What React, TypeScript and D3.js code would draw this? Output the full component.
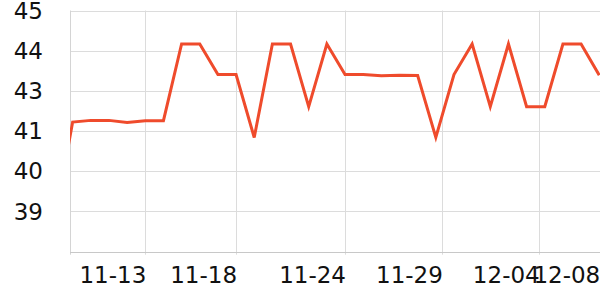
import React from "react";
import * as d3 from "d3";

const dates: string[] = [
  "2023-11-08", "2023-11-09", "2023-11-10", "2023-11-11", "2023-11-12", "2023-11-13",
  "2023-11-14", "2023-11-15", "2023-11-16", "2023-11-17", "2023-11-18", "2023-11-19",
  "2023-11-20", "2023-11-21", "2023-11-22", "2023-11-23", "2023-11-24", "2023-11-25",
  "2023-11-26", "2023-11-27", "2023-11-28", "2023-11-29", "2023-11-30", "2023-12-01",
  "2023-12-02", "2023-12-03", "2023-12-04", "2023-12-05", "2023-12-06", "2023-12-07",
  "2023-12-08",
];
const values: number[] = [
  38.7, 41.67, 41.72, 41.72, 41.66, 41.71,
  41.71, 44.0, 44.0, 43.09, 43.09, 41.21,
  44.0, 44.0, 42.13, 44.0, 43.09, 43.09,
  43.05, 43.07, 43.06, 41.21, 43.09, 44.0,
  42.13, 44.0, 42.13, 42.13, 44.0, 44.0,
  43.07,
];
const xDomain: string[] = ["2023-11-08T20:30:00", "2023-12-08T01:00:00"];
const xTickDates: string[] = [
  "2023-11-13T00:00:00", "2023-11-18T00:00:00", "2023-11-24T00:00:00",
  "2023-11-29T08:00:00", "2023-12-04T16:00:00", "2023-12-08T00:00:00",
];
const yDomain: number[] = [37.8, 45];
const yTicks: number[] = [45, 43.8, 42.6, 41.4, 40.2, 39];

const W = 600;
const H = 300;
const left = 70;
const right = 600;
const top = 10.5;
const bottom = 251.7;

export default function App() {
  const parse = (s: string) => new Date(s);
  const x = d3.scaleTime().domain(xDomain.map(parse)).range([left, right]);
  const y = d3.scaleLinear().domain(yDomain).range([bottom, top]);
  const fmtX = d3.timeFormat("%m-%d");
  const fmtY = d3.format(".0f");
  const pts = dates.map((d, i) => ({ d: parse(d + "T00:00:00"), v: values[i] }));
  const line = d3
    .line<{ d: Date; v: number }>()
    .x((p) => x(p.d))
    .y((p) => y(p.v));
  const font = "'DejaVu Sans', sans-serif";
  return (
    <svg
      width={W}
      height={H}
      style={{ position: "fixed", left: 0, top: 0, background: "#fff" }}
    >
      <defs>
        <clipPath id="plot">
          <rect x={left} y={0} width={right - left} height={bottom + 2} />
        </clipPath>
      </defs>
      {yTicks.map((t) => (
        <line
          key={"gy" + t}
          x1={left}
          x2={right}
          y1={Math.round(y(t)) + 0.5}
          y2={Math.round(y(t)) + 0.5}
          stroke="#dcdcdc"
          strokeWidth={1}
        />
      ))}
      {xTickDates.map((t) => {
        const xx = Math.round(x(parse(t))) + 0.5;
        return xx < right - 2 ? (
          <line
            key={"gx" + t}
            x1={xx}
            x2={xx}
            y1={top}
            y2={bottom + 3}
            stroke="#dcdcdc"
            strokeWidth={1}
          />
        ) : null;
      })}
      <line x1={left + 0.5} x2={left + 0.5} y1={top} y2={bottom + 3} stroke="#d4d4d4" />
      <line x1={left} x2={right} y1={Math.round(bottom) + 0.5} y2={Math.round(bottom) + 0.5} stroke="#c8c8c8" />
      <path
        d={line(pts) || ""}
        fill="none"
        stroke="#ef4b2c"
        strokeWidth={3}
        strokeLinejoin="miter"
        clipPath="url(#plot)"
      />
      {yTicks.map((t) => (
        <text
          key={"ly" + t}
          x={43}
          y={y(t)}
          textAnchor="end"
          dominantBaseline="central"
          fontFamily={font}
          fontSize={23}
          fill="#111"
        >
          {fmtY(t)}
        </text>
      ))}
      {xTickDates.map((t) => (
        <text
          key={"lx" + t}
          x={x(parse(t)) + 1}
          y={283}
          textAnchor="end"
          fontFamily={font}
          fontSize={23}
          fill="#111"
        >
          {fmtX(parse(t))}
        </text>
      ))}
    </svg>
  );
}
